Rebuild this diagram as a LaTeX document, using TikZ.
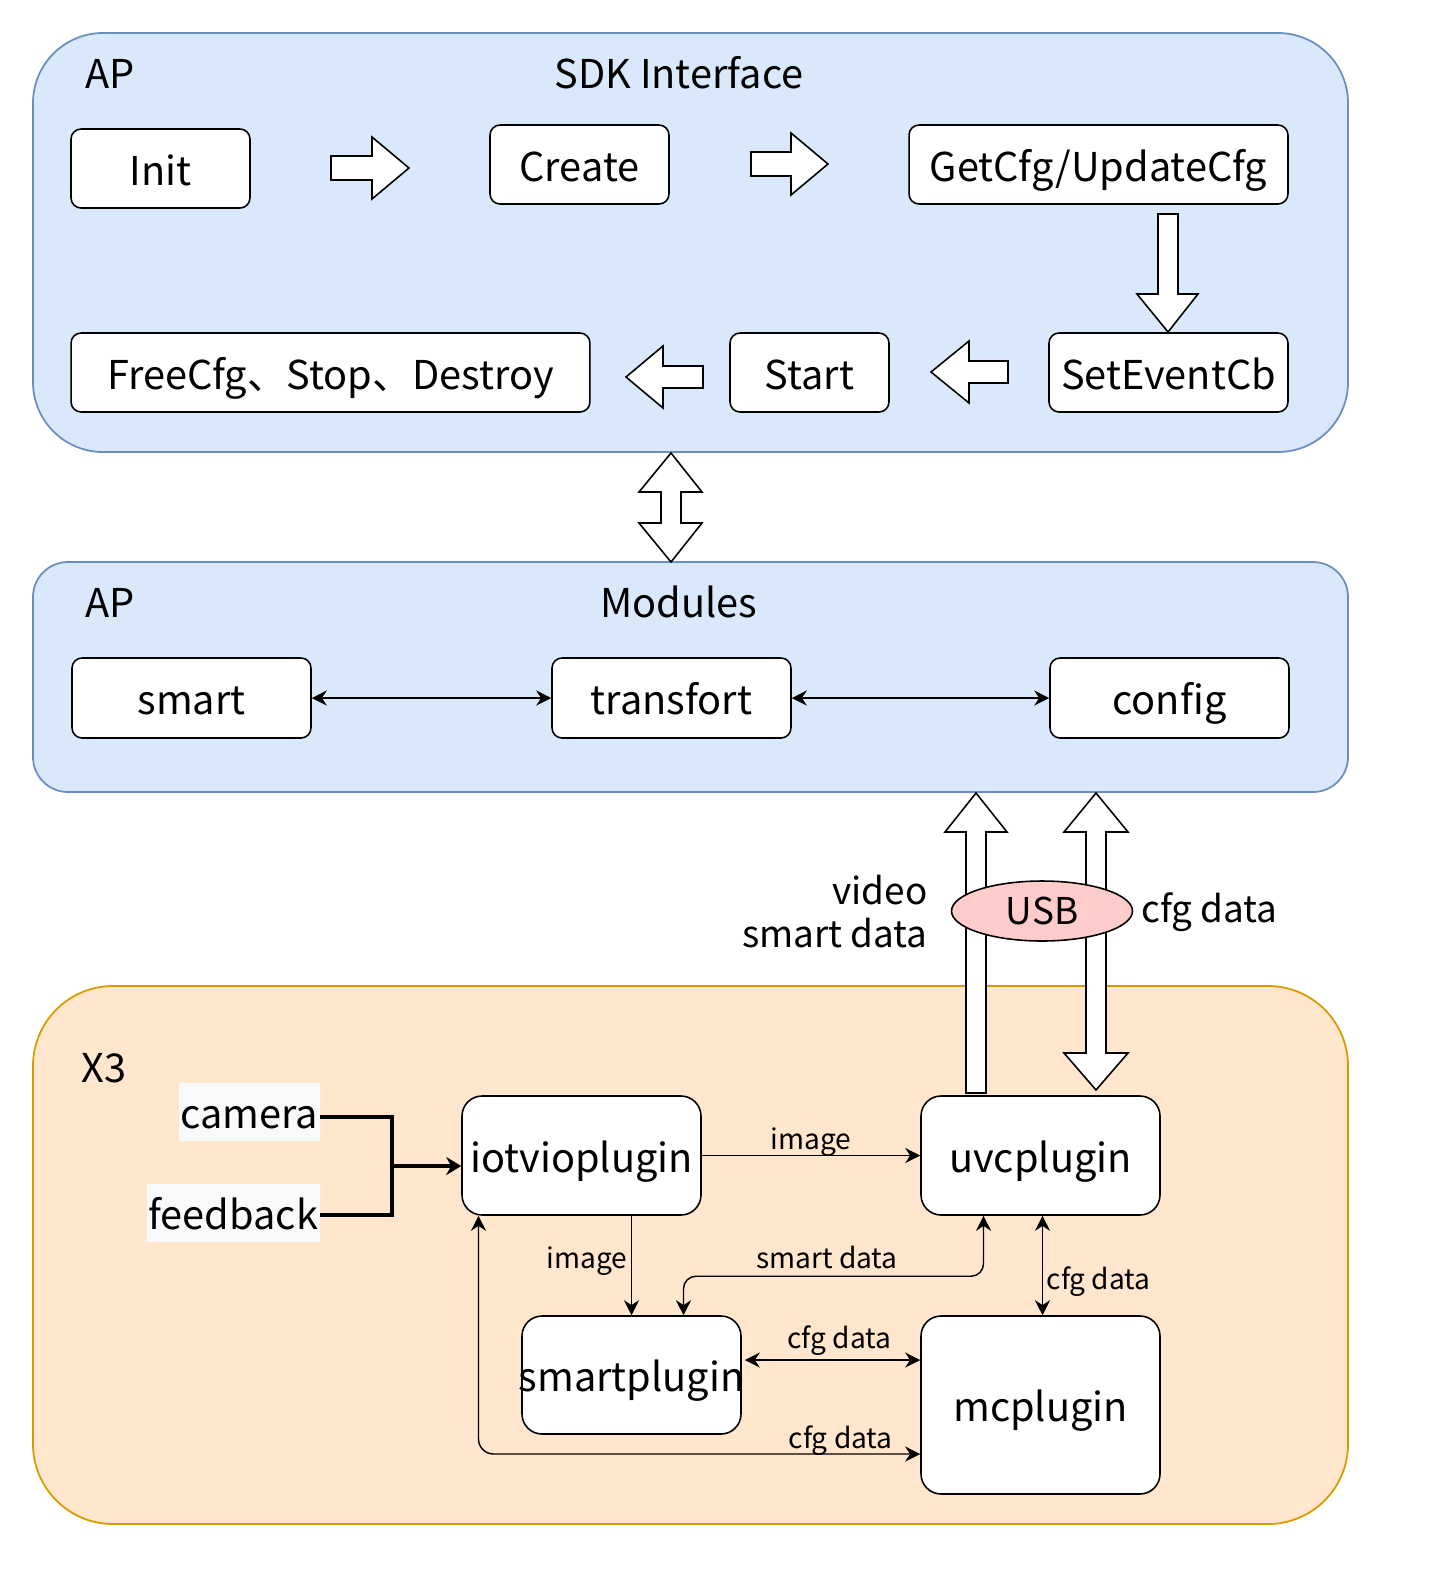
\documentclass[tikz,border=0pt]{standalone}
\usepackage{fontspec}
\setmainfont{Noto Sans CJK SC}
\usetikzlibrary{arrows.meta,shapes.geometric,calc}
\definecolor{apfill}{HTML}{DAE8FC}
\definecolor{apdraw}{HTML}{6C8EBF}
\definecolor{xfill}{HTML}{FFE6CC}
\definecolor{xdraw}{HTML}{D79B00}
\definecolor{usbfill}{HTML}{FFCCCC}
\definecolor{lblbg}{HTML}{F8F9FA}
\tikzset{
  container/.style={line width=1pt},
  box/.style={draw, fill=white, line width=0.9pt, rounded corners=0.2cm, inner sep=0pt,
    minimum height=1.58cm, font=\fontsize{22.6}{26}\selectfont, text height=19pt, text depth=0pt},
  plug/.style={box, rounded corners=0.4cm},
  blk/.style={draw, fill=white, line width=0.9pt, line join=miter},
  conn/.style={line width=0.8pt, >={Stealth[length=0.3cm,width=0.3cm]}},
  thickconn/.style={line width=1.8pt, >={Stealth[length=0.3cm,width=0.36cm]}},
  small/.style={font=\fontsize{16}{19}\selectfont, inner sep=1pt},
  title/.style={font=\fontsize{22.6}{26}\selectfont, inner sep=0pt},
  inlbl/.style={fill=lblbg, anchor=east, inner xsep=1pt, inner ysep=0pt, minimum height=1.16cm,
    font=\fontsize{22.6}{26}\selectfont, text height=19pt, text depth=0pt},
}
\begin{document}
\begin{tikzpicture}[x=0.02cm,y=-0.02cm]
\useasboundingbox (0,0) rectangle (1450,1570);
\fill[white] (0,0) rectangle (1450,1570);
% containers
\draw[container, fill=apfill, draw=apdraw, rounded corners=1.4cm] (33,33) rectangle (1348,452);
\draw[container, fill=apfill, draw=apdraw, rounded corners=0.7cm] (33,562) rectangle (1348,792);
\draw[container, fill=xfill, draw=xdraw, rounded corners=1.6cm] (33,986) rectangle (1348,1524);
% titles
\node[title, anchor=base west] (ap1) at (85,88) {AP};
\node[title, anchor=base] (sdk) at (679,88) {SDK Interface};
\node[title, anchor=base west] (ap2) at (85,617) {AP};
\node[title, anchor=base] (mods) at (679,617) {Modules};
\node[title, anchor=base west] (x3) at (81,1082) {X3};
% SDK boxes
\node[box, minimum width=3.58cm] (init) at (160.5,168.5) {Init};
\node[box, minimum width=3.58cm] (create) at (579.5,164.5) {Create};
\node[box, minimum width=7.58cm] (getcfg) at (1098.5,164.5) {GetCfg/UpdateCfg};
\node[box, minimum width=4.78cm] (setev) at (1168.5,372.5) {SetEventCb};
\node[box, minimum width=3.18cm] (start) at (809.5,372.5) {Start};
\node[box, minimum width=10.38cm] (free) at (330.5,372.5) {FreeCfg、Stop、Destroy};
% block arrows in SDK
\draw[blk] (331,156) -- (372,156) -- (372,137) -- (409,168) -- (372,199) -- (372,180) -- (331,180) -- cycle;
\draw[blk] (751,152) -- (791,152) -- (791,133) -- (828,164) -- (791,195) -- (791,176) -- (751,176) -- cycle;
\draw[blk] (1158,214) -- (1178,214) -- (1178,294) -- (1198,294) -- (1168,332) -- (1137,294) -- (1158,294) -- cycle;
\draw[blk] (1008,361) -- (969,361) -- (969,341) -- (931,372) -- (969,403) -- (969,383) -- (1008,383) -- cycle;
\draw[blk] (703,366) -- (663,366) -- (663,346) -- (626,377) -- (663,408) -- (663,388) -- (703,388) -- cycle;
% double arrow between layers
\draw[blk] (671,453) -- (702,492) -- (681,492) -- (681,523) -- (702,523) -- (671,562) -- (639,523) -- (661,523) -- (661,492) -- (639,492) -- cycle;
% modules
\node[box, minimum width=4.78cm, minimum height=1.6cm] (smart) at (191.5,698) {smart};
\node[box, minimum width=4.78cm, minimum height=1.6cm] (trans) at (671.5,698) {transfort};
\node[box, minimum width=4.78cm, minimum height=1.6cm] (config) at (1169.5,698) {config};
\draw[conn, <->] (smart.east) -- (trans.west);
\draw[conn, <->] (trans.east) -- (config.west);
% USB arrows
\draw[blk] (976,793) -- (1007,832) -- (986,832) -- (986,1093) -- (966,1093) -- (966,832) -- (945,832) -- cycle;
\draw[blk] (1096,793) -- (1128,832) -- (1106,832) -- (1106,1053) -- (1128,1053) -- (1096,1090) -- (1064,1053) -- (1086,1053) -- (1086,832) -- (1064,832) -- cycle;
\node[ellipse, draw, fill=usbfill, line width=0.9pt, minimum width=3.62cm, minimum height=1.2cm, font=\fontsize{21}{25}\selectfont] (usb) at (1042,911) {USB};
\node[inner sep=0pt, anchor=east, align=right, font=\fontsize{21}{24.5}\selectfont] (vid) at (928,912) {video\\smart data};
\node[inner sep=0pt, anchor=base west, font=\fontsize{21}{25}\selectfont] (cfgbig) at (1141,922) {cfg data};
% X3 plugins
\node[plug, minimum width=4.78cm, minimum height=2.38cm] (iotvio) at (581.5,1155.5) {iotvioplugin};
\node[plug, minimum width=4.78cm, minimum height=2.38cm] (uvc) at (1040.5,1155.5) {uvcplugin};
\node[plug, minimum width=4.38cm, minimum height=2.36cm] (smartp) at (631.5,1375) {\makebox[0pt]{smartplugin}};
\node[plug, minimum width=4.78cm, minimum height=3.56cm] (mc) at (1040.5,1405) {mcplugin};
% inputs
\node[inlbl] (camera) at (320,1112) {camera};
\node[inlbl] (feedback) at (320,1213) {feedback};
\coordinate (junc) at (392,1166);
\draw[thickconn] ($(camera.east)+(0,5)$) -| (junc) |- ($(feedback.east)+(0,2)$);
\draw[thickconn, ->] (junc) -- (junc -| iotvio.west);
% connectors
\draw[conn, ->] (iotvio.east) -- (uvc.west) node[small, midway, above=-2pt] {image};
\draw[conn, ->] (smartp.north |- iotvio.south) -- (smartp.north) node[small, pos=0.46, left=1pt] {image};
\draw[conn, <->, rounded corners=0.25cm] ($(uvc.south)+(-57,0)$) |- ($(smartp.north)+(52,-39)$) -- ($(smartp.north)+(52,0)$);
\node[small] (sdlbl) at (827,1257) {smart data};
\draw[conn, <->] ($(uvc.south)+(2,0)$) -- ($(mc.north)+(2,0)$) node[small, pos=0.66, right=1pt] {cfg data};
\draw[conn, <->] ($(smartp.east)+(3,-15)$) -- ($(mc.west |- smartp.east)+(0,-15)$) node[small, pos=0.54, above=1pt] {cfg data};
\draw[conn, <->, rounded corners=0.3cm] ($(iotvio.south)+(-103,0)$) |- ($(mc.west)+(0,49)$) node[small, pos=0.91, above=-2pt] {cfg data};
\end{tikzpicture}
\end{document}
